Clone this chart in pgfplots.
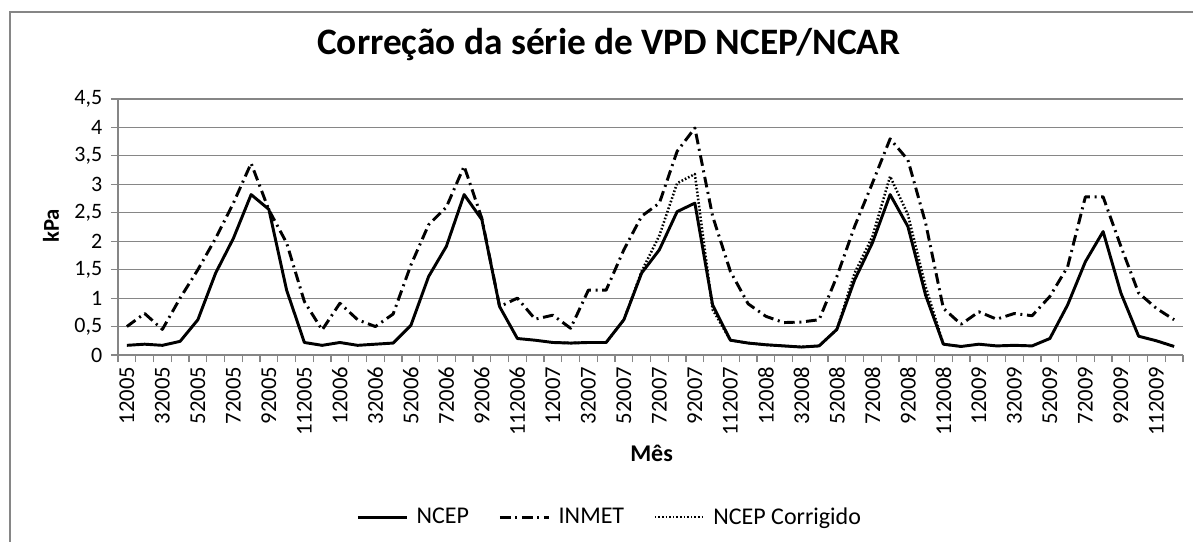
\documentclass[border=0pt]{standalone}
\usepackage{pgfplots}
\pgfplotsset{compat=1.18}
\usepackage{pgfplotstable}
\usepackage{fontspec}
\setmainfont{Carlito}

\definecolor{gridgray}{HTML}{868686}

% x = month index + 0.5 (Jan 2005 ... Dec 2009)
\pgfplotstableread{
x    ncep inmet
0.5  0.17 0.50
1.5  0.19 0.73
2.5  0.17 0.45
3.5  0.24 1.00
4.5  0.62 1.50
5.5  1.44 2.05
6.5  2.05 2.67
7.5  2.82 3.37
8.5  2.56 2.55
9.5  1.14 1.97
10.5 0.22 0.94
11.5 0.17 0.44
12.5 0.22 0.91
13.5 0.17 0.62
14.5 0.19 0.50
15.5 0.21 0.72
16.5 0.52 1.58
17.5 1.38 2.29
18.5 1.91 2.60
19.5 2.82 3.32
20.5 2.38 2.40
21.5 0.85 0.85
22.5 0.29 1.00
23.5 0.26 0.63
24.5 0.22 0.70
25.5 0.21 0.47
26.5 0.22 1.14
27.5 0.22 1.14
28.5 0.62 1.85
29.5 1.44 2.44
30.5 1.85 2.67
31.5 2.52 3.58
32.5 2.67 3.99
33.5 0.88 2.44
34.5 0.26 1.47
35.5 0.21 0.90
36.5 0.18 0.68
37.5 0.16 0.57
38.5 0.14 0.58
39.5 0.16 0.62
40.5 0.45 1.38
41.5 1.32 2.26
42.5 1.97 3.02
43.5 2.82 3.80
44.5 2.26 3.43
45.5 1.05 2.32
46.5 0.19 0.82
47.5 0.15 0.54
48.5 0.19 0.76
49.5 0.16 0.63
50.5 0.17 0.73
51.5 0.16 0.69
52.5 0.29 1.03
53.5 0.88 1.55
54.5 1.64 2.78
55.5 2.17 2.78
56.5 1.09 1.91
57.5 0.33 1.09
58.5 0.25 0.82
59.5 0.15 0.62
}\vpd

\pgfplotstableread{
x    corr
24.5 0.22
25.5 0.21
26.5 0.22
27.5 0.22
28.5 0.62
29.5 1.47
30.5 2.10
31.5 3.02
32.5 3.18
33.5 0.80
34.5 0.26
35.5 0.21
36.5 0.18
37.5 0.16
38.5 0.14
39.5 0.16
40.5 0.45
41.5 1.44
42.5 2.08
43.5 3.14
44.5 2.47
45.5 1.20
46.5 0.19
47.5 0.15
}\corr

\begin{document}
\begin{tikzpicture}
\path[use as bounding box] (0,0) rectangle (894.75pt,-406.5pt);
\draw[gridgray, line width=1.5pt] (7.5pt,-410pt) -- (7.5pt,-9pt) -- (900pt,-9pt);
\begin{axis}[
  at={(88.5pt,-266.25pt)}, anchor=south west,
  scale only axis, width=798.75pt, height=192pt,
  xmin=0, xmax=60, ymin=0, ymax=4.5,
  axis lines*=left,
  axis line style={-, draw=gridgray, line width=0.8pt},
  tick style={draw=gridgray, line width=0.8pt},
  tick align=outside,
  xtick={0.5,2.5,...,58.5},
  xticklabels={12005,32005,52005,72005,92005,112005,
               12006,32006,52006,72006,92006,112006,
               12007,32007,52007,72007,92007,112007,
               12008,32008,52008,72008,92008,112008,
               12009,32009,52009,72009,92009,112009},
  major x tick style={draw=none},
  minor xtick={0,1,...,60},
  minor tick length=5.25pt,
  ytick={0,0.5,...,4.5},
  major tick length=5.25pt,
  ymajorgrids,
  grid style={gridgray, line width=0.8pt},
  /pgf/number format/use comma,
  /pgf/number format/assume math mode=true,
  yticklabel style={font=\fontsize{16.5}{19}\selectfont, xshift=-3pt},
  xticklabel style={rotate=90, anchor=east, font=\fontsize{17}{20}\selectfont},
  title={Correção da série de VPD NCEP/NCAR},
  title style={at={(0.461,1.18)}, anchor=center, font=\fontsize{28}{33}\selectfont\bfseries},
  xlabel={Mês},
  xlabel style={at={(0.501,-0.383)}, anchor=center, font=\fontsize{18}{21}\selectfont\bfseries},
  ylabel={kPa},
  ylabel style={at={(-0.063,0.504)}, anchor=center, rotate=0, font=\fontsize{17}{20}\selectfont\bfseries},
  legend columns=3,
  legend style={at={(0.462,-0.633)}, anchor=center, draw=none,
    font=\fontsize{18}{21}\selectfont,
    /tikz/every odd column/.append style={column sep=4pt},
    /tikz/every even column/.append style={column sep=20pt}},
  legend image code/.code={\draw[#1] (0pt,0pt) -- (37pt,0pt);},
  line join=round,
]
\addplot[black, line width=2.2pt] table[x=x, y=ncep] {\vpd};
\addplot[black, line width=2.2pt, dash pattern=on 8pt off 3.5pt on 1.5pt off 3.5pt] table[x=x, y=inmet] {\vpd};
\addplot[black, line width=1.9pt, dash pattern=on 1.2pt off 1.5pt] table[x=x, y=corr] {\corr};
\legend{NCEP, INMET, NCEP Corrigido}
\end{axis}
\end{tikzpicture}
\end{document}
